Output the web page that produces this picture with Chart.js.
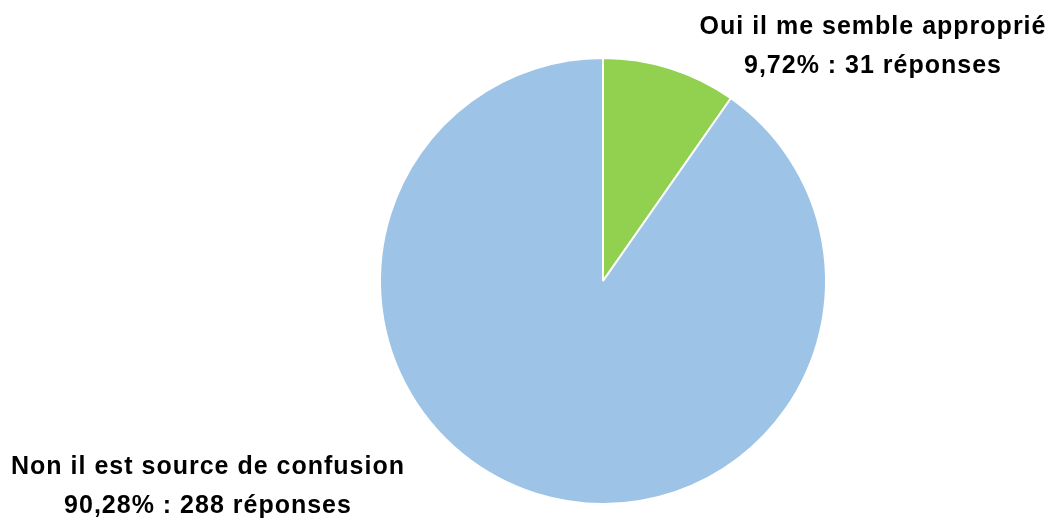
<!DOCTYPE html>
<html>
<head>
<meta charset="utf-8">
<script src="https://cdn.jsdelivr.net/npm/chart.js@4"></script>
<style>
  html, body { margin: 0; padding: 0; background: #fff; }
  #wrap { width: 1058px; height: 521px; position: relative; }
</style>
</head>
<body>
<div id="wrap"><canvas id="myChart"></canvas></div>
<script>
const labels = ['Oui il me semble approprié', 'Non il est source de confusion'];
const responses = [31, 288];
const colors = ['#92D050', '#9DC3E6'];
// where each label block sits (center x, first line y)
const labelPos = [[873, 27], [208, 467]];

const total = responses.reduce((a, b) => a + b, 0);

const labelPlugin = {
  id: 'pieLabels',
  afterDraw: function (chart) {
    const ctx = chart.ctx;
    ctx.save();
    ctx.fillStyle = '#000';
    ctx.font = 'bold 25px "Liberation Sans", Arial, sans-serif';
    ctx.letterSpacing = '1px';
    ctx.textAlign = 'center';
    ctx.textBaseline = 'middle';
    chart.data.labels.forEach(function (label, i) {
      const v = chart.data.datasets[0].data[i];
      const pct = (v / total * 100).toFixed(2).replace('.', ',');
      const [x, y] = labelPos[i];
      ctx.fillText(label, x, y);
      ctx.fillText(pct + '% : ' + v + ' réponses', x, y + 39);
    });
    ctx.restore();
  }
};

new Chart(document.getElementById('myChart'), {
  type: 'pie',
  data: {
    labels: labels,
    datasets: [{
      data: responses,
      backgroundColor: colors,
      borderColor: '#fff',
      borderWidth: 2
    }]
  },
  options: {
    responsive: true,
    maintainAspectRatio: false,
    animation: false,
    layout: { padding: { top: 57, bottom: 16, left: 379, right: 231 } },
    plugins: {
      legend: { display: false },
      tooltip: { enabled: false }
    }
  },
  plugins: [labelPlugin]
});
</script>
</body>
</html>
